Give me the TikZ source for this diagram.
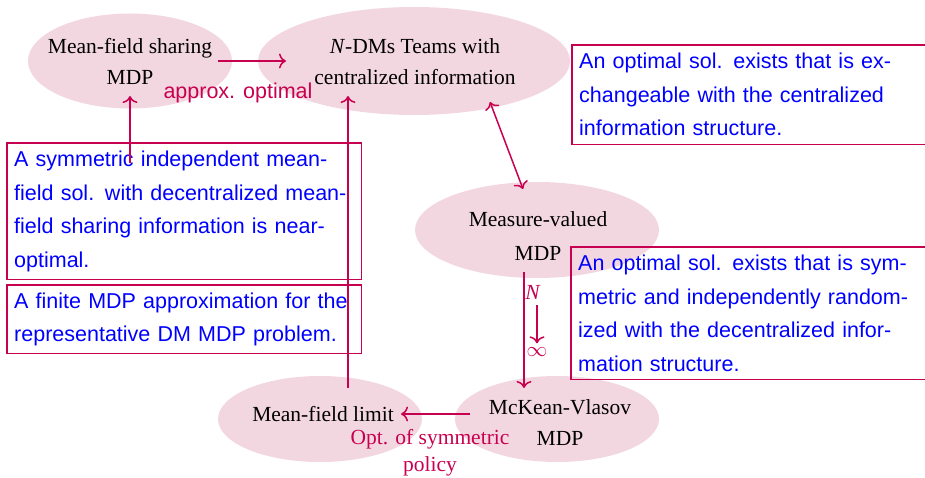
\documentclass[tikz,border=0pt]{standalone}
\usepackage{fontspec}
\setmainfont{Liberation Serif}
\newfontfamily\notefont{Liberation Sans}
\usetikzlibrary{shapes.geometric,arrows.meta}
\definecolor{mdpfill}{RGB}{243,215,224}
\definecolor{linkred}{RGB}{200,0,80}
\definecolor{noteblue}{RGB}{0,0,255}

\begin{document}
\begin{tikzpicture}[x=1pt,y=-1pt,
  state/.style={ellipse, fill=mdpfill, inner sep=0pt},
  statetext/.style={inner sep=0pt, align=center,
    font=\fontsize{21.5}{31}\selectfont},
  note/.style={rectangle, text=noteblue, align=left, anchor=north west,
    inner xsep=7pt, inner ysep=0pt,
    font=\notefont\fontsize{21.5}{33.5}\selectfont},
  boxline/.style={color=linkred, line width=1.2pt},
  tip/.tip={To[length=7pt,width=15pt]},
  link/.style={color=linkred, line width=1.5pt, -tip},
  tag/.style={text=linkred, inner sep=0pt, font=\fontsize{21.5}{27}\selectfont}]
\useasboundingbox (0,0) rectangle (925,478);

% decision problems
\node[state, minimum width=204pt, minimum height=95pt] (sharing) at (130,61) {};
\node[statetext] (sharing-t) at (130,61) {Mean-field sharing\\MDP};
\node[state, minimum width=312pt, minimum height=108pt] (teams) at (414,61) {};
\node[statetext] (teams-t) at (415,62) {\textit{N}-DMs Teams with\\centralized information};
\node[state, minimum width=244pt, minimum height=96pt] (measure) at (537,230) {};
\node[statetext] (measure-t) at (538,236) {Measure-valued\\[3pt]MDP};
\node[state, minimum width=204pt, minimum height=86pt] (limit) at (320,419) {};
\node[statetext] (limit-t) at (323,414) {Mean-field limit};
\node[state, minimum width=204pt, minimum height=86pt] (mckean) at (557,419) {};
\node[statetext] (mckean-t) at (560,423) {McKean-Vlasov\\MDP};

% results
\node[note, minimum width=370pt, minimum height=99pt, text width=356pt] (exch) at (572,45)
  {An optimal sol. exists that is ex-\\changeable with the centralized\\information structure.};
\node[note, minimum width=354pt, minimum height=136pt, text width=340pt] (nearopt) at (7,143)
  {A symmetric independent mean-\\field sol. with decentralized mean-\\field sharing information is near-\\optimal.};
\node[note, minimum width=354pt, minimum height=68pt, text width=340pt] (finite) at (7,285)
  {A finite MDP approximation for the\\representative DM MDP problem.};
\node[note, minimum width=370pt, minimum height=132pt, text width=356pt] (symind) at (571,247)
  {An optimal sol. exists that is sym-\\metric and independently random-\\ized with the decentralized infor-\\mation structure.};
\draw[boxline] (exch.north west) rectangle (exch.south east);
\draw[boxline] (nearopt.north west) rectangle (nearopt.south east);
\draw[boxline] (finite.north west) rectangle (finite.south east);
\draw[boxline] (symind.north west) rectangle (symind.south east);

% connector end points
\coordinate (c1a) at (218,61);  \coordinate (c1b) at (286,61);
\coordinate (c2a) at (130,163); \coordinate (c2b) at (130,96);
\coordinate (c3a) at (348,388); \coordinate (c3b) at (348,96);
\coordinate (c4a) at (490,102); \coordinate (c4b) at (523,189);
\coordinate (c5a) at (524,272); \coordinate (c5b) at (524,388);
\coordinate (c6a) at (470,414); \coordinate (c6b) at (401,414);

\draw[link] (c1a) -- (c1b);
\draw[link] (c2a) -- (c2b);
\draw[link] (c3a) -- (c3b);
\draw[link, tip-tip] (c4a) -- (c4b);
\draw[link] (c5a) -- (c5b);
\draw[link] (c6a) -- (c6b);

% edge labels
\node[tag, font=\notefont\fontsize{21.5}{27}\selectfont] (approx) at (238,93) {approx. optimal};
\node[tag, align=center] (opt) at (430,453) {Opt. of symmetric\\policy};
\node[tag] (nlab) at (533,292) {\textit{N}};
\node[tag] (inflab) at (537,352) {$\infty$};
\draw[link, shorten <=6pt, shorten >=4pt] (nlab.south -| inflab) -- (inflab.north);
\end{tikzpicture}
\end{document}
